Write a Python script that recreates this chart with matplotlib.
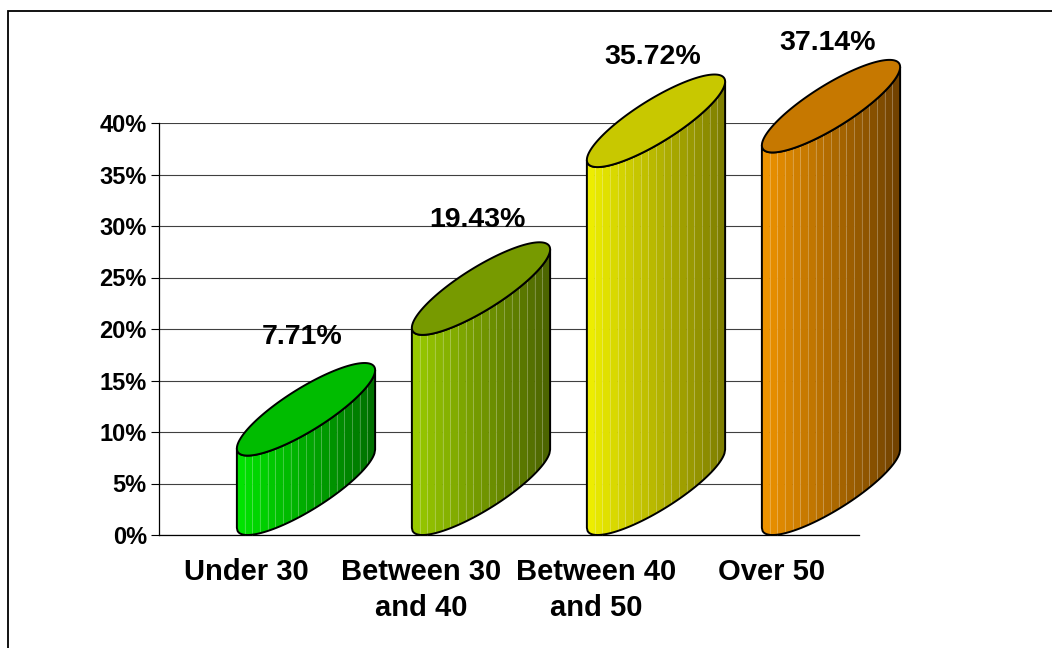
import numpy as np
import matplotlib
matplotlib.use("Agg")
import matplotlib.pyplot as plt
from matplotlib.patches import Polygon, Rectangle
from matplotlib.colors import to_rgb

plt.rcParams['font.family'] = ['Liberation Sans', 'DejaVu Sans']
plt.rcParams['font.weight'] = 'bold'

# ---- data -------------------------------------------------------------
categories = ["Under 30", "Between 30\nand 40", "Between 40\nand 50", "Over 50"]
values = [7.71, 19.43, 35.72, 37.14]
y_ticks = [0, 5, 10, 15, 20, 25, 30, 35, 40]
y_tick_labels = ["0%", "5%", "10%", "15%", "20%", "25%", "30%", "35%", "40%"]

# body gradient (left -> right) and cap colours
side_light = ["#00E600", "#9ACC00", "#F0F000", "#F09400"]
side_dark = ["#006E00", "#4A6200", "#7C7C00", "#6E4000"]
cap_colors = ["#00BC00", "#779A00", "#C8C800", "#C67800"]

# ---- cylinder geometry (category / percent units) ---------------------
SHIFT = 0.34      # depth shift of cylinder centre to the right
HALF_W = 0.395    # horizontal half-width
TILT = 3.8        # rise of the ellipse from left to right edge (half)
THICK = 2.4       # half-thickness of the ellipse at its centre
N_STRIPS = 18
# the base ellipse rests with its lowest point on the floor
BASE_C = float(np.hypot(TILT, THICK))

fig = plt.figure(figsize=(10.52, 6.48), dpi=100)
ax = fig.add_axes([159 / 1052, 113 / 648, 700 / 1052, 412 / 648])
ax.set_xlim(-0.5, 3.5)
ax.set_ylim(0, 40)

# chart area frame
fig.patches.append(Rectangle((8 / 1052, -0.1), 1.2, (648 - 11) / 648 + 0.1,
                             transform=fig.transFigure, fill=False,
                             edgecolor="black", linewidth=1.3, zorder=0))

ax.set_axisbelow(True)
ax.yaxis.grid(True, color="#404040", linewidth=0.8)
for s in ("top", "right"):
    ax.spines[s].set_visible(False)
ax.spines["left"].set_linewidth(0.9)
ax.spines["bottom"].set_linewidth(0.9)

ax.set_yticks(y_ticks)
ax.set_yticklabels(y_tick_labels)
ax.tick_params(axis="y", direction="out", length=5.8, width=0.8, pad=3,
               labelsize=17)
ax.set_xticks(range(len(categories)))
ax.set_xticklabels(categories, fontsize=21, fontweight="bold",
                   linespacing=1.38)
ax.tick_params(axis="x", length=0, pad=16.5)


def front_arc(cx, centre_y, xs):
    u = np.clip((xs - cx) / HALF_W, -1, 1)
    return centre_y + TILT * u - THICK * np.sqrt(1 - u ** 2)


def mix(c1, c2, f):
    a, b = np.array(to_rgb(c1)), np.array(to_rgb(c2))
    return tuple(a + (b - a) * f)


for i, v in enumerate(values):
    cx = i + SHIFT
    base_c = BASE_C
    top_c = v + BASE_C
    edges = np.linspace(cx - HALF_W, cx + HALF_W, N_STRIPS + 1)

    # shaded side strips
    for k in range(N_STRIPS):
        xs = np.linspace(edges[k], edges[k + 1], 8)
        yb = front_arc(cx, base_c, xs)
        yt = front_arc(cx, top_c, xs)
        pts = np.column_stack([np.r_[xs, xs[::-1]], np.r_[yb, yt[::-1]]])
        col = mix(side_light[i], side_dark[i], (k + 0.5) / N_STRIPS)
        ax.add_patch(Polygon(pts, closed=True, facecolor=col, edgecolor=col,
                             linewidth=0.4, clip_on=False, zorder=3))
    # faint strip seams
    for xk in edges[1:-1]:
        xa = np.array([xk])
        ax.plot([xk, xk], [front_arc(cx, base_c, xa)[0], front_arc(cx, top_c, xa)[0]],
                color="white", alpha=0.3, linewidth=0.6, clip_on=False, zorder=4)

    # body outline
    xs = np.linspace(cx - HALF_W, cx + HALF_W, 200)
    yb = front_arc(cx, base_c, xs)
    yt = front_arc(cx, top_c, xs)
    outline = np.column_stack([np.r_[xs, xs[::-1]], np.r_[yb, yt[::-1]]])
    ax.add_patch(Polygon(outline, closed=True, fill=False, edgecolor="black",
                         linewidth=1.4, joinstyle="round", clip_on=False, zorder=5))

    # cap ellipse
    t = np.linspace(0, 2 * np.pi, 300)
    cap = np.column_stack([cx + HALF_W * np.cos(t),
                           top_c + TILT * np.cos(t) + THICK * np.sin(t)])
    ax.add_patch(Polygon(cap, closed=True, facecolor=cap_colors[i],
                         edgecolor="black", linewidth=1.4, clip_on=False, zorder=6))

    # value label, lifted a little less on taller cylinders (perspective)
    lift = (35 - 0.3 * v) * 0.72
    ax.annotate(f"{v:.2f}%", xy=(cx - 0.02, top_c + TILT), xytext=(0, lift),
                textcoords="offset points", ha="center", va="center",
                fontsize=20.5, fontweight="bold", annotation_clip=False, zorder=7)

fig.savefig("out.png", dpi=100)
